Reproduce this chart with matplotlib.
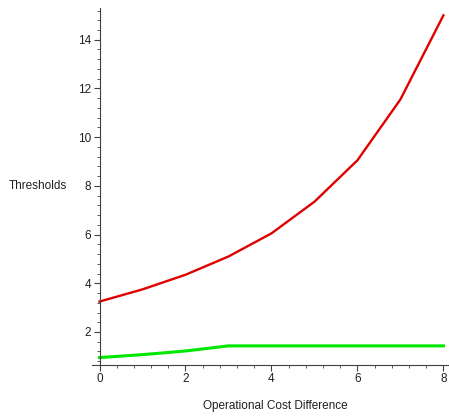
import numpy as np
import matplotlib
matplotlib.use("Agg")
import matplotlib.pyplot as plt
from matplotlib.ticker import MultipleLocator

cost_diff = [0, 1, 2, 3, 4, 5, 6, 7, 8]
upper_threshold = [3.25, 3.75, 4.35, 5.1, 6.05, 7.35, 9.05, 11.55, 15.0]
lower_threshold = [0.95, 1.07, 1.22, 1.43, 1.43, 1.43, 1.43, 1.43, 1.43]

plt.rcParams['font.family'] = ['Liberation Sans', 'DejaVu Sans']

fig = plt.figure(figsize=(4.49, 4.16), dpi=100)
ax = fig.add_axes([0.205, 0.1226, 0.795, 0.858])

ax.plot(cost_diff, upper_threshold, color='#e00000', lw=1.7)
ax.plot(cost_diff, lower_threshold, color='#00e800', lw=2.2)

ax.set_xlim(-0.174, 8.13)
ax.set_ylim(0.645, 15.3)

for s in ['top', 'right']:
    ax.spines[s].set_visible(False)
ax.spines['left'].set_position(('data', 0))
ax.spines['left'].set_color('#404040')
ax.spines['bottom'].set_color('#404040')

ax.xaxis.set_major_locator(MultipleLocator(2))
ax.xaxis.set_minor_locator(MultipleLocator(0.4))
ax.yaxis.set_major_locator(MultipleLocator(2))
ax.yaxis.set_minor_locator(MultipleLocator(0.4))
ax.tick_params(which='major', length=4, width=0.8, colors='#404040',
               labelsize=8.5, labelcolor='#202020', pad=2)
ax.tick_params(which='minor', length=2, width=0.6, colors='#404040')

ax.set_xlabel('Operational Cost Difference', fontsize=8.5, color='#202020',
              va='center')
ax.xaxis.set_label_coords(0.513, -0.115)
ax.set_ylabel('Thresholds', fontsize=8.5, color='#202020', rotation=0,
              ha='left', va='center')
ax.yaxis.set_label_coords(-0.232, 0.501)

fig.savefig('out.png', dpi=100)
